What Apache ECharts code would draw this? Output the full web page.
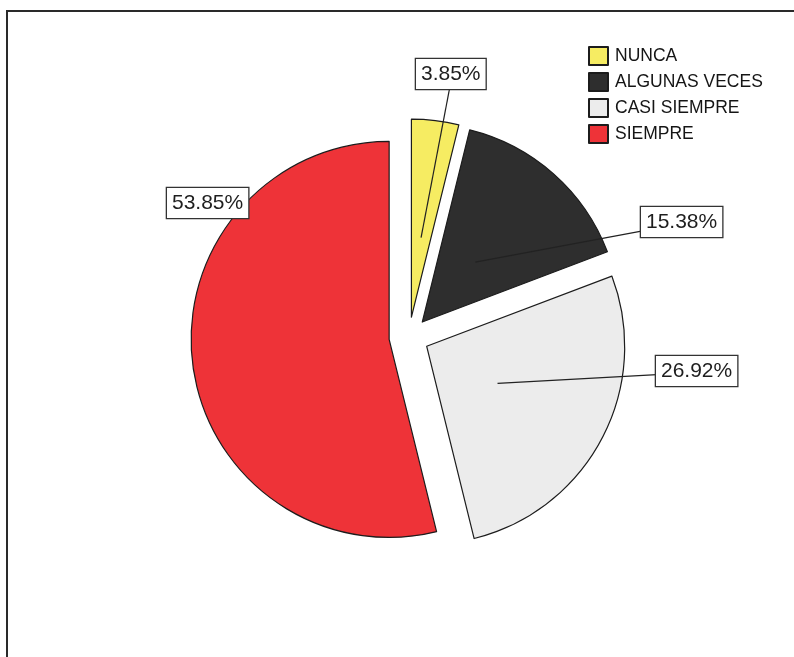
<!DOCTYPE html>
<html>
<head>
<meta charset="utf-8">
<script src="https://cdn.jsdelivr.net/npm/echarts@6/dist/echarts.min.js"></script>
<style>
  html, body { margin: 0; padding: 0; background: #ffffff; }
  #chart { width: 794px; height: 657px; }
</style>
</head>
<body>
<div id="chart"></div>
<script>
// Response categories and their share of answers (%)
const categories = ['NUNCA', 'ALGUNAS VECES', 'CASI SIEMPRE', 'SIEMPRE'];
const percentages = [3.85, 15.38, 26.92, 53.85];

// Slice fills
const sliceColors = ['#f6ec62', '#2e2e2e', '#ececec', '#ee3338'];

// Top-left corner of each value box (px) and whether it gets a leader line
const labelBoxes = [[416, 59], [641, 207], [656, 356], [167, 188]];
const leaderShown = [true, true, true, false];

// Pie geometry (px)
const CX = 409, CY = 337, R = 198, EXPLODE = 20, LEADER_R = 100;

// Mid angle of every slice, clockwise from 12 o'clock
const total = percentages.reduce((a, b) => a + b, 0);
const midAngles = [];
let acc = 0;
percentages.forEach(v => { midAngles.push((acc + v / 2) / total * 2 * Math.PI); acc += v; });

const FONT = '"Liberation Sans", Arial, sans-serif';

const chart = echarts.init(document.getElementById('chart'), null, { renderer: 'canvas' });

const option = {
  backgroundColor: '#ffffff',
  animation: false,
  graphic: [{
    type: 'rect',
    silent: true,
    z: 0,
    shape: { x: 7, y: 11, width: 830, height: 720 },
    style: { fill: 'none', stroke: '#2a2a2a', lineWidth: 2 }
  }],
  legend: {
    data: categories,
    orient: 'vertical',
    left: 588,
    top: 46,
    padding: 0,
    icon: 'rect',
    itemWidth: 19,
    itemHeight: 18,
    itemGap: 6,
    selectedMode: false,
    textStyle: { fontSize: 17.5, color: '#151515', fontFamily: FONT, padding: [0, 0, 0, 2] }
  },
  series: [
    {
      // exploded slices
      type: 'pie',
      z: 2,
      center: [CX, CY],
      radius: R,
      startAngle: 90,
      clockwise: true,
      selectedMode: 'multiple',
      selectedOffset: EXPLODE,
      avoidLabelOverlap: false,
      label: { show: false },
      labelLine: { show: false },
      emphasis: { disabled: true },
      itemStyle: { borderColor: '#1c1c1c', borderWidth: 1.2 },
      data: categories.map((name, i) => ({
        name,
        value: percentages[i],
        selected: true,
        itemStyle: { color: sliceColors[i] }
      }))
    },
    {
      // value boxes with leader lines, drawn above the slices
      type: 'pie',
      z: 5,
      center: [CX, CY],
      radius: R,
      startAngle: 90,
      clockwise: true,
      silent: true,
      selectedMode: false,
      legendHoverLink: false,
      avoidLabelOverlap: false,
      emphasis: { disabled: true },
      itemStyle: { color: 'rgba(0,0,0,0)', borderWidth: 0 },
      label: {
        show: true,
        position: 'outside',
        formatter: p => p.value.toFixed(2) + '%',
        fontSize: 21,
        lineHeight: 23,
        fontFamily: FONT,
        color: '#1e1e1e',
        backgroundColor: '#ffffff',
        borderColor: '#333333',
        borderWidth: 1.3,
        padding: [4, 5, 3, 5]
      },
      labelLine: { show: true, lineStyle: { color: '#222222', width: 1.2 } },
      labelLayout: function (params) {
        const i = params.dataIndex;
        const box = labelBoxes[i];
        const w = params.labelRect.width, h = params.labelRect.height;
        const a = midAngles[i];
        const start = [CX + LEADER_R * Math.sin(a), CY - LEADER_R * Math.cos(a)];
        const end = [box[0] + w / 2, box[1] + h / 2];
        return {
          x: box[0],
          y: box[1],
          align: 'left',
          verticalAlign: 'top',
          labelLinePoints: [start, end]
        };
      },
      data: categories.map((name, i) => ({
        name,
        value: percentages[i],
        labelLine: { show: leaderShown[i] }
      }))
    }
  ]
};

chart.setOption(option);
</script>
</body>
</html>
